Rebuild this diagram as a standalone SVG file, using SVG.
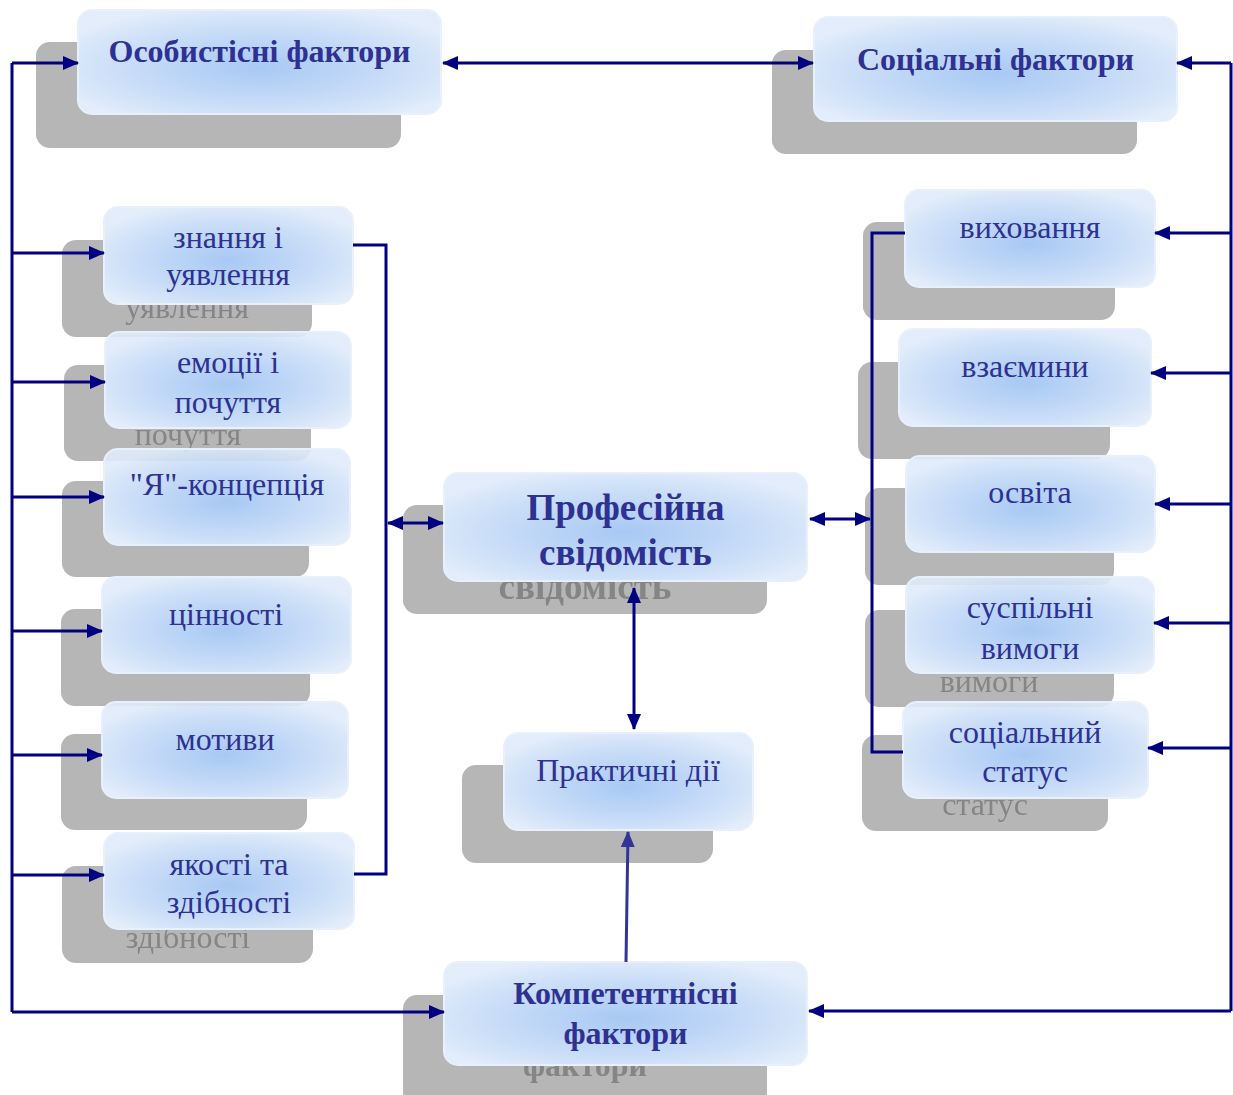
<svg xmlns="http://www.w3.org/2000/svg" width="1233" height="1095" viewBox="0 0 1233 1095">
<style>
.sh{fill:#b6b6b6}
.fr{fill:url(#gl);fill-opacity:0.9;stroke:#e8f0fb;stroke-width:2}
.t{font-family:"Liberation Serif","Times New Roman",serif;fill:#2e3192;text-anchor:middle}
.n{font-size:32px}
.b{font-weight:bold}
.st{font-family:"Liberation Serif","Times New Roman",serif;fill:#858585;text-anchor:middle}
.c{fill:none;stroke:#000080;stroke-width:3}
.ae{marker-end:url(#ah)}
.ab{marker-start:url(#ah);marker-end:url(#ah)}
</style>
<defs>
<radialGradient id="gl" cx="0.5" cy="0.55" r="0.6">
<stop offset="0" stop-color="#9ec3f2"/>
<stop offset="0.45" stop-color="#b9d3f6"/>
<stop offset="0.8" stop-color="#d0e1f8"/>
<stop offset="1" stop-color="#e0ebfa"/>
</radialGradient>
<marker id="ah" markerUnits="userSpaceOnUse" markerWidth="16" markerHeight="14" viewBox="0 0 16 14" refX="15" refY="7" orient="auto-start-reverse">
<path d="M0,0 L16,7 L0,14 z" fill="#000080"/>
</marker>
<marker id="ah2" markerUnits="userSpaceOnUse" markerWidth="16" markerHeight="14" viewBox="0 0 16 14" refX="15" refY="7" orient="auto">
<path d="M0,0 L16,7 L0,14 z" fill="#333399"/>
</marker>
<mask id="m1"><rect width="1233" height="1095" fill="#fff"/><rect x="78" y="10" width="363" height="104" rx="14" fill="#000"/></mask>
<mask id="m2"><rect width="1233" height="1095" fill="#fff"/><rect x="814" y="17" width="363" height="104" rx="14" fill="#000"/></mask>
<mask id="mL1"><rect width="1233" height="1095" fill="#fff"/><rect x="104" y="207" width="249" height="97" rx="14" fill="#000"/></mask>
<mask id="mL2"><rect width="1233" height="1095" fill="#fff"/><rect x="105" y="332" width="246" height="96" rx="14" fill="#000"/></mask>
<mask id="mL3"><rect width="1233" height="1095" fill="#fff"/><rect x="104" y="449" width="246" height="96" rx="14" fill="#000"/></mask>
<mask id="mL4"><rect width="1233" height="1095" fill="#fff"/><rect x="102" y="577" width="249" height="96" rx="14" fill="#000"/></mask>
<mask id="mL5"><rect width="1233" height="1095" fill="#fff"/><rect x="102" y="702" width="246" height="96" rx="14" fill="#000"/></mask>
<mask id="mL6"><rect width="1233" height="1095" fill="#fff"/><rect x="104" y="833" width="250" height="96" rx="14" fill="#000"/></mask>
<mask id="mC"><rect width="1233" height="1095" fill="#fff"/><rect x="444" y="473" width="363" height="108" rx="14" fill="#000"/></mask>
<mask id="mP"><rect width="1233" height="1095" fill="#fff"/><rect x="504" y="733" width="249" height="97" rx="14" fill="#000"/></mask>
<mask id="mK"><rect width="1233" height="1095" fill="#fff"/><rect x="444" y="962" width="363" height="103" rx="14" fill="#000"/></mask>
<mask id="mR1"><rect width="1233" height="1095" fill="#fff"/><rect x="905" y="190" width="250" height="97" rx="14" fill="#000"/></mask>
<mask id="mR2"><rect width="1233" height="1095" fill="#fff"/><rect x="899" y="329" width="252" height="97" rx="14" fill="#000"/></mask>
<mask id="mR3"><rect width="1233" height="1095" fill="#fff"/><rect x="906" y="456" width="249" height="96" rx="14" fill="#000"/></mask>
<mask id="mR4"><rect width="1233" height="1095" fill="#fff"/><rect x="906" y="577" width="248" height="96" rx="14" fill="#000"/></mask>
<mask id="mR5"><rect width="1233" height="1095" fill="#fff"/><rect x="903" y="702" width="245" height="96" rx="14" fill="#000"/></mask>
</defs>
<rect width="1233" height="1095" fill="#fff"/>

<g id="osobystisni">
<g mask="url(#m1)"><rect class="sh" x="36" y="42" width="365" height="106" rx="14"/></g>
<rect class="fr" x="78" y="10" width="363" height="104" rx="14"/>
<text class="t b" x="259.5" y="62" font-size="32">Особистісні фактори</text>
</g>

<g id="sotsialni">
<g mask="url(#m2)"><rect class="sh" x="772" y="50" width="365" height="104" rx="14"/></g>
<rect class="fr" x="814" y="17" width="363" height="104" rx="14"/>
<text class="t b" x="995.5" y="70" font-size="32">Соціальні фактори</text>
</g>

<g id="znannia">
<g mask="url(#mL1)"><rect class="sh" x="62" y="240" width="250" height="97" rx="14"/>
<text class="st n" x="187" y="318">уявлення</text></g>
<rect class="fr" x="104" y="207" width="249" height="97" rx="14"/>
<text class="t n" x="228" y="248">знання і</text>
<text class="t n" x="228" y="285">уявлення</text>
</g>

<g id="emotsii">
<g mask="url(#mL2)"><rect class="sh" x="64" y="365" width="247" height="96" rx="14"/>
<text class="st n" x="188" y="445">почуття</text></g>
<rect class="fr" x="105" y="332" width="246" height="96" rx="14"/>
<text class="t n" x="228" y="373">емоції і</text>
<text class="t n" x="228" y="413">почуття</text>
</g>

<g id="ya-kontseptsiia">
<g mask="url(#mL3)"><rect class="sh" x="62" y="481" width="247" height="96" rx="14"/></g>
<rect class="fr" x="104" y="449" width="246" height="96" rx="14"/>
<text class="t n" x="227" y="495">"Я"-концепція</text>
</g>

<g id="tsinnosti">
<g mask="url(#mL4)"><rect class="sh" x="61" y="609" width="249" height="97" rx="14"/></g>
<rect class="fr" x="102" y="577" width="249" height="96" rx="14"/>
<text class="t n" x="226" y="625">цінності</text>
</g>

<g id="motyvy">
<g mask="url(#mL5)"><rect class="sh" x="61" y="734" width="246" height="96" rx="14"/></g>
<rect class="fr" x="102" y="702" width="246" height="96" rx="14"/>
<text class="t n" x="225" y="750">мотиви</text>
</g>

<g id="yakosti">
<g mask="url(#mL6)"><rect class="sh" x="62" y="866" width="251" height="97" rx="14"/>
<text class="st n" x="188" y="948">здібності</text></g>
<rect class="fr" x="104" y="833" width="250" height="96" rx="14"/>
<text class="t n" x="229" y="875">якості та</text>
<text class="t n" x="229" y="913">здібності</text>
</g>

<g id="profesiina">
<g mask="url(#mC)"><rect class="sh" x="403" y="505" width="364" height="109" rx="14"/>
<text class="st b" x="585" y="599" font-size="37">свідомість</text></g>
<rect class="fr" x="444" y="473" width="363" height="108" rx="14"/>
<text class="t b" x="625.5" y="520" font-size="37">Професійна</text>
<text class="t b" x="625.5" y="565" font-size="37">свідомість</text>
</g>

<g id="praktychni">
<g mask="url(#mP)"><rect class="sh" x="462" y="765" width="251" height="98" rx="14"/></g>
<rect class="fr" x="504" y="733" width="249" height="97" rx="14"/>
<text class="t" x="628" y="781" font-size="32">Практичні дії</text>
</g>

<g id="kompetentnisni">
<g mask="url(#mK)"><rect class="sh" x="403" y="995" width="364" height="112" rx="14"/>
<text class="st b" x="585" y="1076" font-size="32">фактори</text></g>
<rect class="fr" x="444" y="962" width="363" height="103" rx="14"/>
<text class="t b" x="625.5" y="1004" font-size="32">Компетентнісні</text>
<text class="t b" x="625.5" y="1044" font-size="32">фактори</text>
</g>

<g id="vykhovannia">
<g mask="url(#mR1)"><rect class="sh" x="863" y="222" width="252" height="98" rx="14"/></g>
<rect class="fr" x="905" y="190" width="250" height="97" rx="14"/>
<text class="t n" x="1030" y="238">виховання</text>
</g>

<g id="vzaiemyny">
<g mask="url(#mR2)"><rect class="sh" x="858" y="362" width="252" height="97" rx="14"/></g>
<rect class="fr" x="899" y="329" width="252" height="97" rx="14"/>
<text class="t n" x="1025" y="377">взаємини</text>
</g>

<g id="osvita">
<g mask="url(#mR3)"><rect class="sh" x="865" y="488" width="249" height="97" rx="14"/></g>
<rect class="fr" x="906" y="456" width="249" height="96" rx="14"/>
<text class="t n" x="1030" y="503">освіта</text>
</g>

<g id="suspilni">
<g mask="url(#mR4)"><rect class="sh" x="865" y="610" width="249" height="97" rx="14"/>
<text class="st n" x="989" y="692">вимоги</text></g>
<rect class="fr" x="906" y="577" width="248" height="96" rx="14"/>
<text class="t n" x="1030" y="618">суспільні</text>
<text class="t n" x="1030" y="659">вимоги</text>
</g>

<g id="sotsialnyi-status">
<g mask="url(#mR5)"><rect class="sh" x="862" y="735" width="246" height="96" rx="14"/>
<text class="st n" x="985" y="815">статус</text></g>
<rect class="fr" x="903" y="702" width="245" height="96" rx="14"/>
<text class="t n" x="1025" y="743">соціальний</text>
<text class="t n" x="1025" y="782">статус</text>
</g>

<g id="connectors">
<path class="c" d="M12 63 V1012"/>
<path class="c ae" d="M12 63 H78"/>
<path class="c ae" d="M12 253 H104"/>
<path class="c ae" d="M12 382 H105"/>
<path class="c ae" d="M12 497 H104"/>
<path class="c ae" d="M12 631 H102"/>
<path class="c ae" d="M12 755 H102"/>
<path class="c ae" d="M12 875 H104"/>
<path class="c ae" d="M12 1012 H444"/>
<path class="c" d="M353 245 H386 V874 H354"/>
<path class="c ab" d="M388 523 H443"/>
<path class="c ab" d="M443 63 H813"/>
<path class="c" d="M1231 63 V1011"/>
<path class="c ae" d="M1231 63 H1177"/>
<path class="c ae" d="M1231 233 H1155"/>
<path class="c ae" d="M1231 373 H1151"/>
<path class="c ae" d="M1231 504 H1155"/>
<path class="c ae" d="M1231 623 H1154"/>
<path class="c ae" d="M1231 748 H1148"/>
<path class="c ae" d="M1231 1011 H809"/>
<path class="c" d="M905 233 H872 V752 H903"/>
<path class="c ab" d="M810 519 H870"/>
<path class="c ab" d="M634 588 V729"/>
<path fill="none" stroke="#333399" stroke-width="3" marker-end="url(#ah2)" d="M626 962 L628 832"/>
</g>
</svg>
